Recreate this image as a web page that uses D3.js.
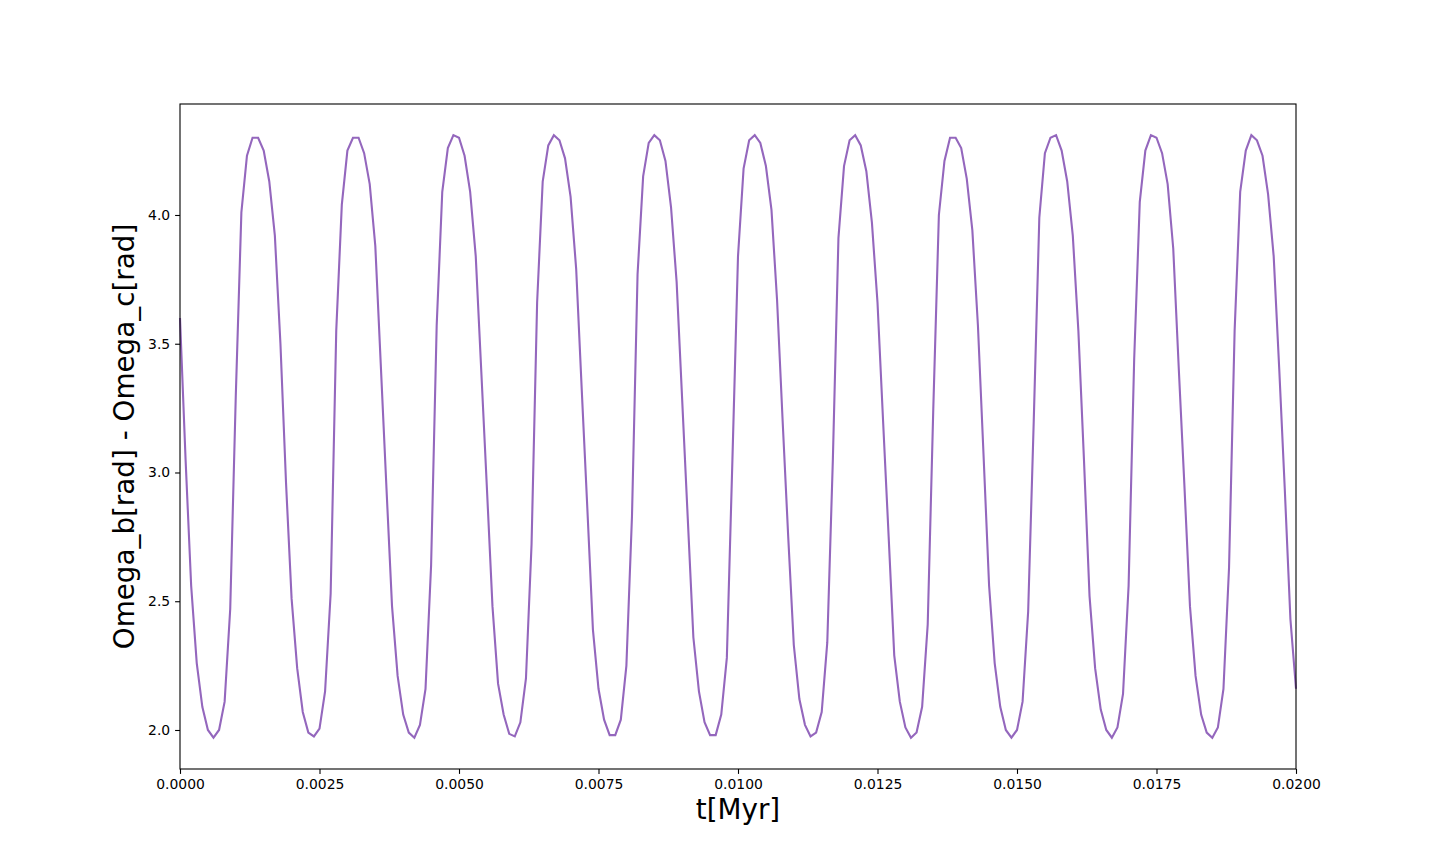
<!DOCTYPE html>
<html>
<head>
<meta charset="utf-8">
<style>
  body { margin: 0; background: #fff; }
  svg { display: block; font-family: "DejaVu Sans", sans-serif; }
</style>
</head>
<body>
<script src="https://cdn.jsdelivr.net/npm/d3@7"></script>
<script>

// sample spacing of the run (Myr)
var tStep = 0.0001;

// Omega_b - Omega_c, one value per sample
var omegaDiff = [
  3.60, 3.05, 2.56, 2.26, 2.09, 2.00, 1.97, 2.00, 2.11, 2.47,
  3.30, 4.01, 4.23, 4.30, 4.30, 4.25, 4.13, 3.92, 3.50, 2.96,
  2.51, 2.24, 2.07, 1.99, 1.975, 2.005, 2.15, 2.53, 3.55, 4.04,
  4.25, 4.30, 4.30, 4.24, 4.12, 3.88, 3.41, 2.94, 2.48, 2.21,
  2.06, 1.99, 1.97, 2.02, 2.16, 2.64, 3.57, 4.09, 4.26, 4.31,
  4.30, 4.23, 4.09, 3.84, 3.39, 2.94, 2.48, 2.18, 2.06, 1.985,
  1.975, 2.03, 2.20, 2.72, 3.66, 4.13, 4.27, 4.31, 4.29, 4.22,
  4.07, 3.79, 3.32, 2.86, 2.39, 2.16, 2.04, 1.98, 1.98, 2.04,
  2.25, 2.83, 3.77, 4.15, 4.28, 4.31, 4.29, 4.21, 4.03, 3.74,
  3.28, 2.82, 2.36, 2.15, 2.03, 1.98, 1.98, 2.06, 2.28, 3.05,
  3.84, 4.18, 4.29, 4.31, 4.28, 4.19, 4.02, 3.67, 3.20, 2.75,
  2.33, 2.12, 2.02, 1.975, 1.99, 2.07, 2.34, 3.05, 3.91, 4.19,
  4.29, 4.31, 4.27, 4.17, 3.97, 3.66, 3.20, 2.75, 2.29, 2.11,
  2.01, 1.97, 1.99, 2.09, 2.41, 3.25, 4.00, 4.21, 4.30, 4.30,
  4.26, 4.14, 3.94, 3.57, 3.07, 2.56, 2.26, 2.09, 2.00, 1.97,
  2.00, 2.11, 2.46, 3.20, 3.99, 4.24, 4.30, 4.31, 4.25, 4.13,
  3.92, 3.55, 3.05, 2.52, 2.24, 2.08, 2.00, 1.97, 2.01, 2.14,
  2.56, 3.44, 4.05, 4.25, 4.31, 4.30, 4.24, 4.12, 3.87, 3.40,
  2.95, 2.48, 2.21, 2.06, 1.99, 1.97, 2.01, 2.16, 2.63, 3.55,
  4.09, 4.25, 4.31, 4.29, 4.23, 4.08, 3.84, 3.40, 2.93, 2.43,
  2.16
];

var xTicks = [0, 0.0025, 0.005, 0.0075, 0.01, 0.0125, 0.015, 0.0175, 0.02];
var yTicks = [2.0, 2.5, 3.0, 3.5, 4.0];

var W = 1440, H = 864;
var margin = {top: 104, right: 144, bottom: 95, left: 180},
    width  = W - margin.left - margin.right,
    height = H - margin.top - margin.bottom;

var svg = d3.select("body").append("svg")
    .attr("width", W)
    .attr("height", H);

var g = svg.append("g")
    .attr("transform", `translate(${margin.left},${margin.top})`);

var x = d3.scaleLinear()
    .domain([0, 0.02])
    .range([0, width]);

var y = d3.scaleLinear()
    .domain([1.8485, 4.431])
    .range([height, 0]);

var data = omegaDiff.map((v, i) => ({t: i * tStep, v: v}));

var line = d3.line()
    .x(d => x(d.t))
    .y(d => y(d.v));

g.append("path")
    .datum(data)
    .attr("fill", "none")
    .attr("stroke", "#9467bd")
    .attr("stroke-width", 2.1)
    .attr("stroke-linejoin", "miter")
    .attr("d", line);

// axes
var xAxis = g.append("g")
    .attr("transform", `translate(0,${height})`)
    .call(d3.axisBottom(x).tickValues(xTicks).tickFormat(d3.format(".4f"))
      .tickSize(4.9).tickPadding(4.9));

var yAxis = g.append("g")
    .call(d3.axisLeft(y).tickValues(yTicks).tickFormat(d3.format(".1f"))
      .tickSize(4.9).tickPadding(4.9));

[xAxis, yAxis].forEach(a => {
  a.select(".domain").remove();
  a.selectAll("line").attr("stroke", "#000").attr("stroke-width", 1.1);
  a.selectAll("text").attr("font-size", "13.9px").attr("fill", "#000")
    .attr("font-family", "DejaVu Sans, sans-serif");
});

// frame
g.append("rect")
    .attr("width", width)
    .attr("height", height)
    .attr("fill", "none")
    .attr("stroke", "#000")
    .attr("stroke-width", 1.1);

svg.append("text")
    .attr("x", margin.left + width / 2)
    .attr("y", 819)
    .attr("text-anchor", "middle")
    .attr("font-size", "27.8px")
    .text("t[Myr]");

svg.append("text")
    .attr("transform", `translate(134,${margin.top + height / 2}) rotate(-90)`)
    .attr("text-anchor", "middle")
    .attr("font-size", "27.8px")
    .text("Omega_b[rad] - Omega_c[rad]");

</script>
</body>
</html>
